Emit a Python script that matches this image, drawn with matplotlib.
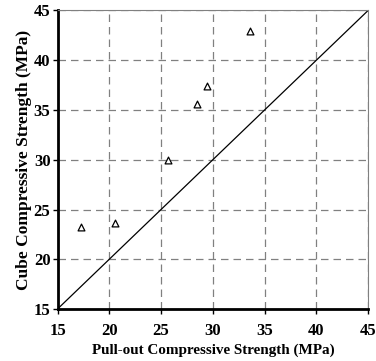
import matplotlib
matplotlib.use("Agg")
import matplotlib.pyplot as plt

# Measured strengths (MPa)
pullout = [17.25, 20.56, 25.67, 28.47, 29.44, 33.55]
cube = [23.28, 23.6, 29.98, 35.58, 37.36, 42.89]
line_range = [15, 45]
ticks = [15, 20, 25, 30, 35, 40, 45]

plt.rcParams['font.family'] = ['Liberation Serif', 'DejaVu Serif']
plt.rcParams['font.weight'] = 'bold'

fig = plt.figure(figsize=(3.76, 3.61), dpi=100)
ax = fig.add_axes([0.153, 0.144, 0.826, 0.827])

ax.plot(line_range, line_range, color='black', linewidth=0.9)
ax.scatter(pullout, cube, marker='^', s=24, facecolors='white',
           edgecolors='black', linewidths=0.9, zorder=3)

ax.set_xlim(15, 45)
ax.set_ylim(15, 45)
ax.set_xticks(ticks)
ax.set_yticks(ticks)
ax.grid(True, linestyle=(0, (6, 4)), color='#808080', linewidth=0.9)

for side in ['top', 'right']:
    ax.spines[side].set_color('#808080')
    ax.spines[side].set_linewidth(0.8)
for side in ['left', 'bottom']:
    ax.spines[side].set_linewidth(2)

ax.tick_params(direction='out', length=3.6, width=1.0, labelsize=12)
ax.tick_params(axis='y', pad=1.5)
ax.tick_params(axis='x', pad=6.5)
for lab in ax.get_xticklabels() + ax.get_yticklabels():
    lab.set_fontweight('bold')

ax.set_xlabel('Pull-out Compressive Strength (MPa)', fontsize=10.9, fontweight='bold', labelpad=3)
ax.set_ylabel('Cube Compressive Strength (MPa)', fontsize=12.5, fontweight='bold', labelpad=1)

fig.savefig('out.png', dpi=100)
